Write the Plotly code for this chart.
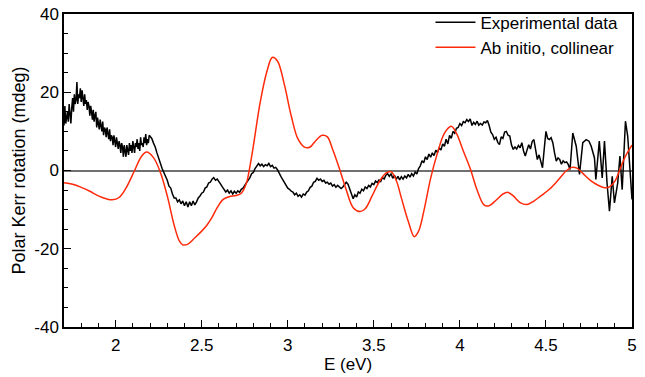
import plotly.graph_objects as go

# Experimental data (E in eV, Kerr rotation in mdeg)
exp_E = [
    1.700, 1.705, 1.710, 1.715, 1.720, 1.725, 1.730, 1.735, 1.740, 1.745,
    1.750, 1.755, 1.760, 1.765, 1.770, 1.775, 1.780, 1.785, 1.790, 1.795,
    1.800, 1.805, 1.810, 1.815, 1.820, 1.825, 1.830, 1.835, 1.840, 1.845,
    1.850, 1.855, 1.860, 1.865, 1.870, 1.875, 1.880, 1.885, 1.890, 1.895,
    1.900, 1.905, 1.910, 1.915, 1.920, 1.925, 1.930, 1.935, 1.940, 1.945,
    1.950, 1.955, 1.960, 1.965, 1.970, 1.975, 1.980, 1.985, 1.990, 1.995,
    2.000, 2.005, 2.010, 2.015, 2.020, 2.025, 2.030, 2.035, 2.040, 2.045,
    2.050, 2.055, 2.060, 2.065, 2.070, 2.075, 2.080, 2.085, 2.090, 2.095,
    2.100, 2.105, 2.110, 2.115, 2.120, 2.125, 2.130, 2.135, 2.140, 2.145,
    2.150, 2.155, 2.160, 2.165, 2.170, 2.175, 2.180, 2.185, 2.190, 2.195,
    2.20, 2.21, 2.22, 2.23, 2.24, 2.25, 2.26, 2.27, 2.28, 2.29,
    2.30, 2.31, 2.32, 2.33, 2.34, 2.35, 2.36, 2.37, 2.38, 2.39,
    2.40, 2.41, 2.42, 2.43, 2.44, 2.45, 2.46, 2.47, 2.48, 2.49,
    2.50, 2.51, 2.52, 2.53, 2.54, 2.55, 2.56, 2.57, 2.58, 2.59,
    2.60, 2.61, 2.62, 2.63, 2.64, 2.65, 2.66, 2.67, 2.68, 2.69,
    2.70, 2.71, 2.72, 2.73, 2.74, 2.75, 2.76, 2.77, 2.78, 2.79,
    2.80, 2.81, 2.82, 2.83, 2.84, 2.85, 2.86, 2.87, 2.88, 2.89,
    2.90, 2.91, 2.92, 2.93, 2.94, 2.95, 2.96, 2.97, 2.98, 2.99,
    3.00, 3.01, 3.02, 3.03, 3.04, 3.05, 3.06, 3.07, 3.08, 3.09,
    3.10, 3.11, 3.12, 3.13, 3.14, 3.15, 3.16, 3.17, 3.18, 3.19,
    3.20, 3.21, 3.22, 3.23, 3.24, 3.25, 3.26, 3.27, 3.28, 3.29,
    3.30, 3.31, 3.32, 3.33, 3.34, 3.35, 3.36, 3.37, 3.38, 3.39,
    3.40, 3.41, 3.42, 3.43, 3.44, 3.45, 3.46, 3.47, 3.48, 3.49,
    3.50, 3.51, 3.52, 3.53, 3.54, 3.55, 3.56, 3.57, 3.58, 3.59,
    3.60, 3.61, 3.62, 3.63, 3.64, 3.65, 3.66, 3.67, 3.68, 3.69,
    3.70, 3.71, 3.72, 3.73, 3.74, 3.75, 3.76, 3.77, 3.78, 3.79,
    3.80, 3.81, 3.82, 3.83, 3.84, 3.85, 3.86, 3.87, 3.88, 3.89,
    3.90, 3.91, 3.92, 3.93, 3.94, 3.95, 3.96, 3.97, 3.98, 3.99,
    4.00, 4.01, 4.02, 4.03, 4.04, 4.05, 4.06, 4.07, 4.08, 4.09,
    4.10, 4.11, 4.12, 4.13, 4.14, 4.15, 4.16, 4.17, 4.18, 4.19,
    4.20, 4.21, 4.22, 4.23, 4.24, 4.25, 4.26, 4.27, 4.28, 4.29,
    4.30, 4.31, 4.32, 4.33, 4.34, 4.35, 4.36, 4.37, 4.38, 4.39,
    4.40, 4.41, 4.42, 4.43, 4.44, 4.45, 4.46, 4.47, 4.48, 4.49,
    4.50, 4.51, 4.52, 4.53, 4.54, 4.55, 4.56, 4.57, 4.58, 4.59,
    4.60, 4.61, 4.62, 4.63, 4.640, 4.656, 4.676, 4.695, 4.714, 4.734,
    4.750, 4.763, 4.782, 4.790, 4.810, 4.827, 4.840, 4.855, 4.869, 4.885,
    4.898, 4.917, 4.930, 4.943, 4.962, 4.975, 4.990, 5.000,
]
exp_val = [
    11.5, 16.5, 12.0, 13.5, 15.0, 12.5, 17.0, 14.5, 12.0, 16.0,
    18.5, 15.0, 19.5, 17.0, 18.0, 22.6, 17.0, 19.5, 18.5, 21.0,
    17.5, 20.5, 19.0, 16.5, 19.5, 17.0, 18.0, 15.5, 17.5, 16.5,
    14.0, 16.5, 15.0, 13.0, 15.5, 12.5, 14.0, 15.0, 11.0, 13.5,
    12.0, 10.5, 13.0, 11.5, 10.0, 12.5, 9.0, 11.0, 10.5, 8.5,
    11.0, 9.5, 8.0, 10.5, 7.5, 9.0, 8.5, 6.5, 9.0, 7.5,
    6.0, 8.5, 7.0, 5.5, 7.5, 6.5, 4.5, 7.0, 6.0, 3.5,
    6.5, 5.0, 3.5, 6.5, 5.5, 4.0, 7.0, 5.0, 6.5, 4.5,
    7.5, 5.5, 4.5, 7.0, 6.0, 8.0, 5.5, 7.0, 5.0, 8.5,
    6.5, 7.0, 6.0, 8.5, 7.0, 9.3, 6.5, 8.0, 7.0, 9.0,
    8.8, 8.2, 7.0, 6.0, 4.5, 3.0, 2.0, 0.5, -0.5, -1.5,
    -2.5, -4.0, -4.5, -6.0, -7.0, -7.0, -8.0, -7.5, -8.5, -7.8,
    -9.0, -8.0, -9.3, -8.0, -9.0, -7.8, -8.8, -8.0, -7.0, -6.5,
    -5.8, -5.5, -4.5, -4.2, -3.2, -3.0, -2.2, -1.8, -2.5, -2.2,
    -3.0, -3.5, -4.2, -5.0, -5.5, -5.0, -5.8, -5.2, -6.0, -5.3,
    -5.8, -5.2, -5.6, -4.8, -4.5, -3.8, -3.2, -2.5, -1.8, -0.8,
    -0.5, 0.5, 1.2, 1.8, 1.2, 1.6, 1.0, 1.5, 1.2, 1.8,
    1.0, 1.3, 0.6, 0.8, 0.2, -0.5, -1.5, -2.3, -3.0, -3.8,
    -4.5, -4.8, -5.3, -5.5, -6.2, -5.8, -6.6, -6.2, -6.8, -6.0,
    -6.3, -5.5, -5.2, -4.3, -4.0, -3.0, -2.8, -2.0, -2.5, -2.2,
    -2.8, -2.5, -3.2, -3.0, -3.5, -3.2, -4.0, -3.6, -4.3, -3.8,
    -4.2, -4.6, -4.2, -3.5, -3.0, -3.5, -4.8, -6.0, -7.2, -6.2,
    -6.8, -5.5, -5.8, -4.8, -5.2, -4.2, -4.6, -3.8, -4.2, -3.3,
    -3.6, -2.7, -3.1, -2.4, -2.8, -1.8, -2.2, -1.2, -0.8, -1.5,
    -0.8, -2.0, -1.2, -2.3, -1.5, -2.4, -1.6, -2.2, -1.4, -1.9,
    -1.0, -1.7, -0.8, -1.4, -0.4, -0.9, 0.5, 1.2, 2.5, 2.0,
    3.5, 2.8, 4.2, 3.4, 4.5, 3.8, 5.2, 4.6, 5.8, 5.2,
    6.8, 6.2, 8.0, 6.8, 9.0, 8.2, 10.0, 9.5, 10.8, 11.0,
    12.0, 11.5, 12.5, 12.2, 13.0, 12.5, 13.2, 11.5, 12.3, 11.8,
    12.6, 11.6, 12.0, 11.6, 12.4, 12.2, 12.8, 11.5, 9.8, 9.2,
    8.0, 8.5, 7.2, 6.6, 8.6, 8.2, 9.8, 10.0, 9.0, 8.8,
    6.5, 5.4, 6.0, 5.5, 6.4, 5.8, 7.1, 5.0, 3.7, 5.2,
    6.6, 5.5, 7.4, 7.9, 5.0, 2.8, 4.0, 2.0, 0.7, 5.5,
    10.0, 8.2, 7.9, 8.4, 7.1, 4.5, 2.4, 3.2, 2.8, 1.6,
    2.5, 2.0, 2.2, 1.5, 0.25, 9.6, 6.2, -1.0, 7.1, 7.9,
    7.5, 6.2, 3.2, -2.3, 7.5, -1.9, 7.5, -3.2, -10.4, -1.5,
    -8.3, -3.2, 3.7, -4.9, 12.6, 8.8, -2.0, -7.4,
]

# Ab initio, collinear calculation
abi_E = [
    1.70, 1.75, 1.80, 1.85, 1.90, 1.95, 1.98, 2.02, 2.06, 2.11,
    2.15, 2.18, 2.22, 2.26, 2.30, 2.34, 2.37, 2.39, 2.42, 2.46,
    2.50, 2.53, 2.56, 2.59, 2.625, 2.66, 2.70, 2.73, 2.76, 2.78,
    2.80, 2.84, 2.88, 2.91, 2.94, 2.98, 3.02, 3.06, 3.10, 3.13,
    3.16, 3.20, 3.23, 3.26, 3.30, 3.34, 3.38, 3.42, 3.45, 3.49,
    3.53, 3.57, 3.60, 3.63, 3.66, 3.70, 3.735, 3.76, 3.79, 3.83,
    3.87, 3.91, 3.95, 3.98, 4.02, 4.06, 4.10, 4.14, 4.17, 4.21,
    4.25, 4.28, 4.31, 4.35, 4.39, 4.43, 4.47, 4.52, 4.57, 4.62,
    4.65, 4.68, 4.72, 4.76, 4.80, 4.84, 4.87, 4.90, 4.93, 4.96,
    5.00,
]
abi_val = [
    -3.1, -3.5, -4.3, -5.3, -6.5, -7.3, -7.5, -6.9, -4.5, 0.0,
    3.6, 4.7, 3.3, -0.5, -6.5, -14.0, -18.0, -19.0, -18.8, -17.2,
    -15.5, -14.0, -12.0, -9.5, -7.4, -6.7, -6.4, -5.8, -3.2, 1.0,
    6.2, 17.5, 25.5, 28.9, 28.0, 22.0, 14.0, 8.0, 5.9, 6.0,
    7.5, 9.0, 8.6, 5.5, 0.5, -5.0, -9.5, -10.5, -9.8, -6.5,
    -3.0, -0.7, -0.3, -2.5, -7.0, -13.0, -16.9, -15.5, -10.5, -2.0,
    4.5, 9.5, 11.3, 9.5, 5.0, 0.5, -5.0, -8.8, -9.0, -7.6,
    -6.0, -5.6, -6.5, -8.2, -8.7, -7.8, -6.5, -4.8, -2.5, 0.0,
    0.8, 0.6, -1.0, -2.6, -3.7, -4.4, -4.2, -2.8, 0.3, 3.5,
    6.5,
]

x_ticks = [2, 2.5, 3, 3.5, 4, 4.5, 5]
x_ticklabels = ["2", "2.5", "3", "3.5", "4", "4.5", "5"]
y_ticks = [-40, -20, 0, 20, 40]
y_ticklabels = ["-40", "-20", "0", "20", "40"]

FONT = "Liberation Sans, Arial, Helvetica, sans-serif"

fig = go.Figure()
fig.add_trace(go.Scatter(
    x=exp_E, y=exp_val, mode="lines", name="Experimental data",
    line=dict(color="black", width=1.5),
))
fig.add_trace(go.Scatter(
    x=abi_E, y=abi_val, mode="lines", name="Ab initio, collinear",
    line=dict(color="#ff2a0a", width=1.5, shape="spline", smoothing=1.0),
))

fig.update_layout(
    width=645, height=377,
    margin=dict(l=64, r=13, t=14, b=50, autoexpand=False),
    paper_bgcolor="white", plot_bgcolor="white",
    font=dict(family=FONT, size=17, color="black"),
    showlegend=True,
    legend=dict(
        x=0.985, y=1.03, xanchor="right", yanchor="top",
        bgcolor="rgba(0,0,0,0)", borderwidth=0,
        font=dict(family=FONT, size=17, color="black"),
        itemwidth=40, tracegroupgap=0,
    ),
    xaxis=dict(
        range=[1.7, 5.0], tickvals=x_ticks, ticktext=x_ticklabels,
        ticks="inside", ticklen=7, tickwidth=1, tickcolor="black",
        minor=dict(dtick=0.1, ticks="inside", ticklen=4, tickcolor="black", showgrid=False),
        showline=True, linecolor="black", linewidth=1.5, mirror=True,
        showgrid=False, zeroline=False, automargin=False,
        ticklabelstandoff=2, ticklabeloverflow="allow",
        title=dict(text="E (eV)", font=dict(size=17), standoff=4),
        tickfont=dict(size=17),
    ),
    yaxis=dict(
        range=[-40, 40], tickvals=y_ticks, ticktext=y_ticklabels,
        ticks="inside", ticklen=7, tickwidth=1, tickcolor="black",
        minor=dict(dtick=5, ticks="inside", ticklen=4, tickcolor="black", showgrid=False),
        showline=True, linecolor="black", linewidth=1.5, mirror=True,
        showgrid=False, zeroline=True, zerolinecolor="#707070", zerolinewidth=1.6,
        automargin=False, ticklabeloverflow="allow",
        title=dict(text="Polar Kerr rotation (mdeg)", font=dict(size=18), standoff=4),
        tickfont=dict(size=17),
    ),
)

# remove the page's default body margin so the figure fills the window exactly
fig.write_html(
    "out.html",
    config={"displayModeBar": False},
    post_script="document.body.style.margin='0';",
)
